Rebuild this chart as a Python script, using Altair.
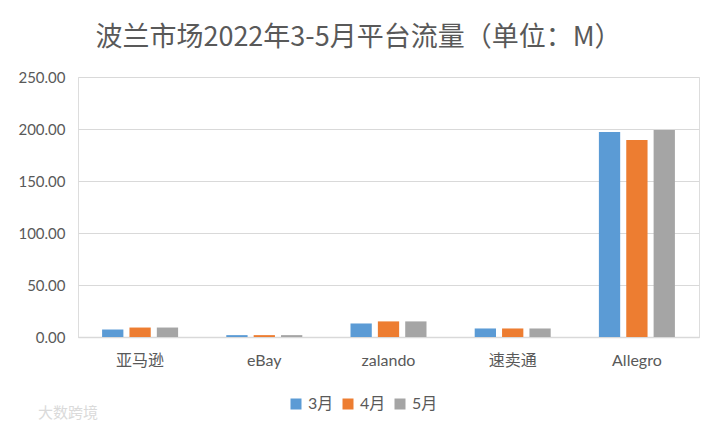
import altair as alt
import pandas as pd

categories = ["亚马逊", "eBay", "zalando", "速卖通", "Allegro"]
months = ["3月", "4月", "5月"]
mar = [7.2, 1.8, 13.0, 8.2, 197.0]
apr = [9.1, 1.8, 15.0, 8.2, 189.4]
may = [9.1, 1.8, 15.0, 8.2, 199.0]
colors = ["#5B9BD5", "#ED7D31", "#A5A5A5"]
y_ticks = [0, 50, 100, 150, 200, 250]

rows = []
for m, vals in zip(months, [mar, apr, may]):
    for c, v in zip(categories, vals):
        rows.append({"平台": c, "月份": m, "流量": v})
df = pd.DataFrame(rows)

FONT = "Lato, 'Noto Sans CJK SC', sans-serif"
GREY = "#595959"

bars = alt.Chart(df).mark_bar().encode(
    x=alt.X("平台:N", sort=categories, title=None,
            scale=alt.Scale(paddingInner=0.388, paddingOuter=0.194),
            axis=alt.Axis(labelAngle=0, ticks=False, domainColor="#D9D9D9", domainWidth=1.5,
                          labelFontSize=16, labelColor=GREY, labelFont=FONT, labelPadding=15)),
    xOffset=alt.XOffset("月份:N", sort=months,
                        scale=alt.Scale(paddingInner=0.222, paddingOuter=0)),
    y=alt.Y("流量:Q", title=None,
            scale=alt.Scale(domain=[0, 250], nice=False),
            axis=alt.Axis(values=y_ticks, format=".2f", domain=False, ticks=False,
                          gridColor="#D9D9D9", gridWidth=1.2,
                          labelFontSize=15, labelColor=GREY, labelFont=FONT, labelPadding=13)),
    color=alt.Color("月份:N", sort=months,
                    scale=alt.Scale(domain=months, range=colors),
                    legend=alt.Legend(title=None, orient="none", direction="horizontal",
                                      legendX=210, legendY=319, padding=0,
                                      symbolType="square", symbolSize=121, symbolStrokeWidth=0,
                                      labelFontSize=16, labelColor=GREY, labelFont=FONT,
                                      labelOffset=4, columnPadding=6)),
)

watermark = alt.Chart(pd.DataFrame({"t": ["大数跨境"]})).mark_text(
    align="left", baseline="middle", fontSize=15, color="#DADADA",
    font="'Noto Sans CJK SC', sans-serif"
).encode(x=alt.value(-40), y=alt.value(336), text="t:N")

chart = alt.layer(bars, watermark).properties(
    width=621, height=260,
    autosize=alt.AutoSizeParams(type="none"),
    padding={"left": 70, "top": 69, "right": 15, "bottom": 89},
    title=alt.TitleParams("波兰市场2022年3-5月平台流量（单位：M）", fontSize=27, fontWeight="normal",
                          color=GREY, font="'Noto Sans CJK SC', sans-serif",
                          anchor="middle", dx=-30, offset=18),
).configure_view(stroke=None).configure(background="white")

chart.save("out.html", embed_options={"renderer": "svg", "actions": False})
